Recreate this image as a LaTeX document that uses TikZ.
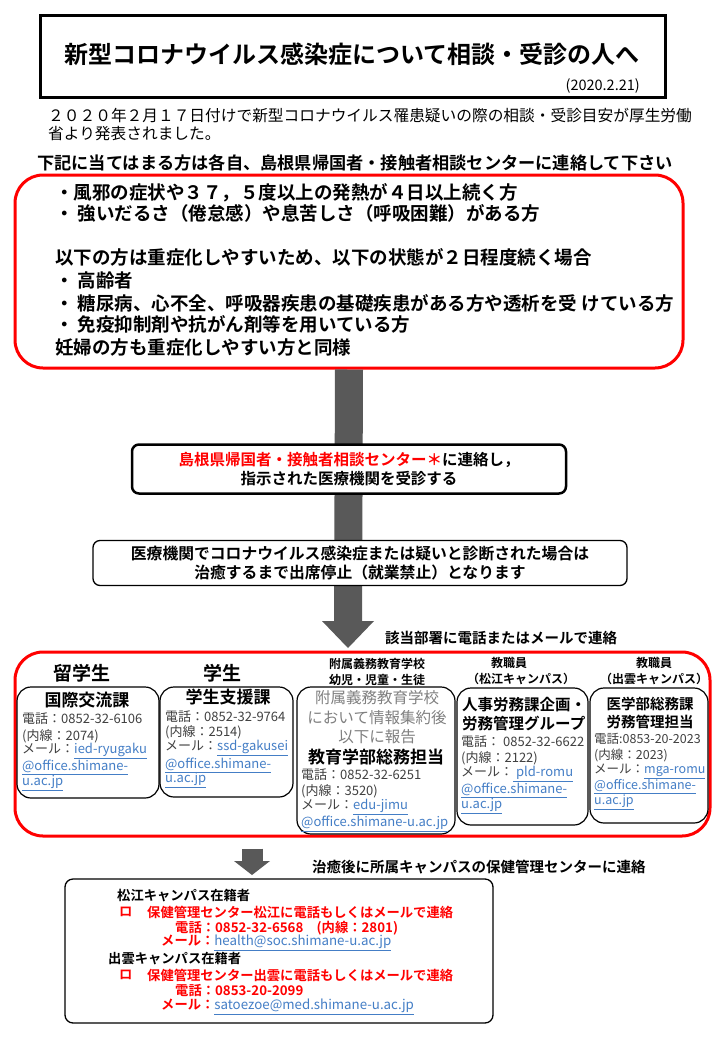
\documentclass[tikz,border=0pt]{standalone}
\usepackage{fontspec}
\setmainfont{Noto Sans CJK JP}[BoldFont={Noto Sans CJK JP Bold}]
\definecolor{arrowgray}{RGB}{89,89,89}
\definecolor{linkblue}{RGB}{68,126,198}
\definecolor{bodygray}{RGB}{64,64,64}
\definecolor{notegray}{RGB}{128,128,128}
\newcommand{\ulink}[1]{\textcolor{linkblue}{\underline{#1}}}
\tikzset{
  redframe/.style={draw=red, line width=3pt, rounded corners=28pt, inner sep=0pt},
  flowbox/.style={draw=black, fill=white, rounded corners=7pt, align=center, inner sep=0pt},
  subbox/.style={draw=black, fill=white, line width=1.2pt, rounded corners=14pt, inner sep=0pt},
  txt/.style={inner sep=0pt, anchor=west},
  ctxt/.style={inner sep=0pt},
  info/.style={txt, text=bodygray, font=\fontsize{13pt}{16pt}\selectfont},
  depttitle/.style={ctxt, font=\fontsize{17pt}{20pt}\selectfont\bfseries},
  grouphead/.style={ctxt, font=\fontsize{19pt}{22pt}\selectfont\bfseries},
  groupsmall/.style={ctxt, font=\fontsize{12pt}{15pt}\selectfont\bfseries},
  critline/.style={txt, font=\fontsize{18.5pt}{22pt}\selectfont\bfseries},
  follow/.style={txt, font=\fontsize{13.3pt}{16pt}\selectfont\bfseries},
  followred/.style={follow, text=red}
}
\begin{document}
\begin{tikzpicture}[x=1pt,y=-1pt]
	\fill[white] (0,0) rectangle (728,1045);
	\useasboundingbox (0,0) rectangle (728,1045);
	
	% title
	\node[draw, line width=3pt, minimum width=625pt, minimum height=82pt, inner sep=0pt] (titlebox) at (352.5,56) {};
	\node[ctxt, font=\fontsize{24pt}{26pt}\selectfont\bfseries] (title) at (352,54) {新型コロナウイルス感染症について相談・受診の人へ};
	\node[inner sep=0pt, anchor=east, font=\fontsize{14.5pt}{16pt}\selectfont] (date) at (640,86) {(2020.2.21)};
	
	\node[txt, font=\fontsize{15.7pt}{18pt}\selectfont] (notice1) at (48,116) {２０２０年２月１７日付けで新型コロナウイルス罹患疑いの際の相談・受診目安が厚生労働};
	\node[txt, font=\fontsize{15.7pt}{18pt}\selectfont] (notice2) at (48,134) {省より発表されました。};
	\node[txt, font=\fontsize{17.2pt}{20pt}\selectfont\bfseries] (lead) at (37,163) {下記に当てはまる方は各自、島根県帰国者・接触者相談センターに連絡して下さい};
	
	% criteria
	\node[redframe, minimum width=668pt, minimum height=193pt] (criteria) at (349,271.5) {};
	\node[critline] (crit1) at (55,193) {・風邪の症状や３７，５度以上の発熱が４日以上続く方};
	\node[critline] (crit2) at (55,213) {・ 強いだるさ（倦怠感）や息苦しさ（呼吸困難）がある方};
	\node[critline] (crit3) at (55,257) {以下の方は重症化しやすいため、以下の状態が２日程度続く場合};
	\node[critline] (crit4) at (55,280) {・ 高齢者};
	\node[critline] (crit5) at (55,303) {・ 糖尿病、心不全、呼吸器疾患の基礎疾患がある方や透析を受 けている方};
	\node[critline] (crit6) at (55,324) {・ 免疫抑制剤や抗がん剤等を用いている方};
	\node[critline] (crit7) at (55,347) {妊婦の方も重症化しやすい方と同様};
	
	% main arrow
	\coordinate (tip1) at (348,648);
	\draw[arrowgray, line width=28pt] (criteria.south) -- (348,622);
	\fill[arrowgray] (322,621) -- (374,621) -- (tip1) -- cycle;
	
	\node[flowbox, line width=2.5pt, minimum width=434pt, minimum height=49pt, font=\fontsize{15.5pt}{19pt}\selectfont\bfseries] (contact) at (349,469)
	{\textcolor{red}{島根県帰国者・接触者相談センター＊}に連絡し，\\指示された医療機関を受診する};
	\node[flowbox, line width=1.3pt, minimum width=534pt, minimum height=45pt, font=\fontsize{15.8pt}{19.5pt}\selectfont\bfseries] (diagnosis) at (360,563)
	{医療機関でコロナウイルス感染症または疑いと診断された場合は\\治癒するまで出席停止（就業禁止）となります};
	
	\node[txt, font=\fontsize{14.5pt}{17pt}\selectfont\bfseries] (reportnote) at (385,638) {該当部署に電話またはメールで連絡};
	
	% departments
	\node[redframe, minimum width=695pt, minimum height=184pt] (depts) at (362.5,744) {};
	
	\node[grouphead] (intlhead) at (82,673) {留学生};
	\node[grouphead] (studhead) at (222,673) {学生};
	\node[groupsmall] (schoolhead1) at (377,664) {附属義務教育学校};
	\node[groupsmall] (schoolhead2) at (377,680) {幼児・児童・生徒};
	\node[groupsmall] (matsuehead1) at (509,663) {教職員};
	\node[groupsmall] (matsuehead2) at (521,679) {（松江キャンパス）};
	\node[groupsmall] (izumohead1) at (654,663) {教職員};
	\node[groupsmall] (izumohead2) at (654,679) {（出雲キャンパス）};
	
	\draw[subbox] (17,687) rectangle (159,798);
	\node[depttitle] (intl) at (87,700) {国際交流課};
	\node[info] (intl1) at (22,719) {電話：0852-32-6106};
	\node[info] (intl2) at (22,736) {(内線：2074)};
	\node[info] (intl3) at (22,751) {メール：\ulink{ied-ryugaku}};
	\node[info] (intl4) at (22,767) {\ulink{@office.shimane-}};
	\node[info] (intl5) at (22,783) {\ulink{u.ac.jp}};
	
	\draw[subbox] (160,687) rectangle (293,797);
	\node[depttitle] (stud) at (228,697) {学生支援課};
	\node[info] (stud1) at (165,717) {電話：0852-32-9764};
	\node[info] (stud2) at (165,732) {(内線：2514)};
	\node[info] (stud3) at (165,748) {メール：\ulink{ssd-gakusei}};
	\node[info] (stud4) at (165,765) {\ulink{@office.shimane-}};
	\node[info] (stud5) at (165,780) {\ulink{u.ac.jp}};
	
	\draw[subbox] (297,687) rectangle (455,834);
	\node[ctxt, text=notegray, font=\fontsize{15.5pt}{18pt}\selectfont] (school1) at (377,698) {附属義務教育学校};
	\node[ctxt, text=notegray, font=\fontsize{15.5pt}{18pt}\selectfont] (school2) at (377,718) {において情報集約後};
	\node[ctxt, text=notegray, font=\fontsize{15.5pt}{18pt}\selectfont] (school3) at (377,737) {以下に報告};
	\node[depttitle] (edu) at (376,757) {教育学部総務担当};
	\node[info] (edu1) at (301,775) {電話：0852-32-6251};
	\node[info] (edu2) at (301,791) {(内線：3520)};
	\node[info] (edu3) at (301,807) {メール：\ulink{edu-jimu}};
	\node[info] (edu4) at (301,824) {\ulink{@office.shimane-u.ac.jp}};
	
	\draw[subbox] (457,688) rectangle (588,825);
	\node[txt, font=\fontsize{15.5pt}{18pt}\selectfont\bfseries] (hr1) at (462,705) {人事労務課企画・};
	\node[txt, font=\fontsize{15.5pt}{18pt}\selectfont\bfseries] (hr2) at (462,724) {労務管理グループ};
	\node[info] (hr3) at (461,742) {電話： 0852-32-6622};
	\node[info] (hr4) at (461,758) {(内線：2122)};
	\node[info] (hr5) at (461,774) {メール：\ulink{ pld-romu}};
	\node[info] (hr6) at (461,790) {\ulink{@office.shimane-}};
	\node[info] (hr7) at (461,806) {\ulink{u.ac.jp}};
	
	\draw[subbox] (590,688) rectangle (708,823);
	\node[ctxt, font=\fontsize{14.5pt}{17pt}\selectfont\bfseries] (med1) at (650,704) {医学部総務課};
	\node[ctxt, font=\fontsize{14.5pt}{17pt}\selectfont\bfseries] (med2) at (650,722) {労務管理担当};
	\node[info, font=\fontsize{12.5pt}{15pt}\selectfont] (med3) at (594,739) {電話:0853-20-2023};
	\node[info, font=\fontsize{12.5pt}{15pt}\selectfont] (med4) at (594,755) {(内線：2023)};
	\node[info, font=\fontsize{12.5pt}{15pt}\selectfont] (med5) at (594,771) {メール：\ulink{mga-romu}};
	\node[info, font=\fontsize{12.5pt}{15pt}\selectfont] (med6) at (594,787) {\ulink{@office.shimane-}};
	\node[info, font=\fontsize{12.5pt}{15pt}\selectfont] (med7) at (594,802) {\ulink{u.ac.jp}};
	
	% follow-up
	\coordinate (tip2) at (252,875);
	\draw[arrowgray, line width=21pt] (depts.south -| tip2) ++(0,11) -- (252,862);
	\fill[arrowgray] (234,861) -- (270,861) -- (tip2) -- cycle;
	\node[txt, font=\fontsize{14.5pt}{17pt}\selectfont\bfseries] (afternote) at (312,867) {治癒後に所属キャンパスの保健管理センターに連絡};
	
	\node[draw=black, line width=1.3pt, rounded corners=8pt, minimum width=428pt, minimum height=144pt, inner sep=0pt] (followup) at (279,951) {};
	\node[follow] (matsue) at (117,896) {松江キャンパス在籍者};
	\node[followred] (matsue0) at (119,912) {ロ};
	\node[followred] (matsue1) at (147,912) {保健管理センター松江に電話もしくはメールで連絡};
	\node[followred] (matsue2) at (175,928) {電話：0852-32-6568　(内線：2801)};
	\node[followred] (matsue3) at (161,943) {メール：\mdseries\ulink{health@soc.shimane-u.ac.jp}};
	\node[follow] (izumo) at (108,959) {出雲キャンパス在籍者};
	\node[followred] (izumo0) at (119,975) {ロ};
	\node[followred] (izumo1) at (147,975) {保健管理センター出雲に電話もしくはメールで連絡};
	\node[followred] (izumo2) at (175,991) {電話：0853-20-2099};
	\node[followred] (izumo3) at (161,1007) {メール：\mdseries\ulink{satoezoe@med.shimane-u.ac.jp}};
	
\end{tikzpicture}
\end{document}
